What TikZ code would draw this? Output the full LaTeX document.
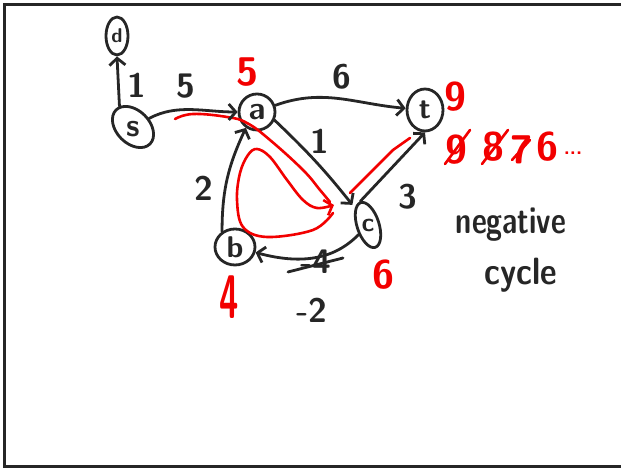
\documentclass[tikz,border=0pt]{standalone}
\usepackage{fontspec}
\usetikzlibrary{arrows.meta,shapes.geometric}
\tikzset{
  ink/.style={line width=2.8pt, draw=black!85, line cap=round, line join=round},
  redink/.style={line width=2.6pt, draw=red!95!black, line cap=round, line join=round},
  barb/.style={-{Straight Barb[length=7pt,width=16pt]}},
  vtx/.style={ink, inner sep=0pt, ellipse},
  fs/.style={font=\sffamily\bfseries\fontsize{#1}{#1}\selectfont},
  blbl/.style={fs=34, text=black!85, inner sep=0pt},
  rlbl/.style={fs=40, text=red!95!black, inner sep=0pt},
}
\begin{document}
\begin{tikzpicture}[x=1pt,y=1pt]
\useasboundingbox (0,0) rectangle (621,470);
\draw[line width=3pt, black!85] (621,465) -- (4,465) -- (4,3) -- (621,3);

% vertices
\node[vtx, minimum width=22, minimum height=38] (d) at (117,434) {};
\node[fs=20, text=black!85] (dl) at (d) {d};
\node[vtx, minimum width=48, minimum height=33, rotate=-45] (s) at (133,343) {};
\node[fs=32, text=black!85] (sl) at (133,341) {s};
\node[vtx, circle, minimum size=36, fs=32, text=black!85] (a) at (257,358) {a};
\node[vtx, minimum width=36, minimum height=42, fs=30, text=black!85] (t) at (425,360) {t};
\node[vtx, minimum width=47, minimum height=22, rotate=108] (c) at (368,245) {};
\node[fs=26, text=black!85] (cl) at (368,245) {c};
\node[vtx, minimum width=40, minimum height=36, fs=30, text=black!85] (b) at (235,223) {b};

% red paths
\draw[redink] plot[smooth, tension=0.7] coordinates {(175,351) (193,356) (227,353) (247,347) (270,330) (303,300) (320,280) (330,268)};
\draw[redink, barb] plot[smooth, tension=0.6] coordinates {(333,257) (313,240) (267,233) (243,243) (237,270) (240,297) (248,315) (257,321) (270,313) (287,290) (303,270) (317,262) (334,265)};
\draw[redink] (350,277) -- (393,320) -- (410,332);

% edges
\draw[ink, barb] (s.168) -- (d.south);
\draw[ink, barb] (s) to[out=45, in=180] (a);
\draw[ink, barb] (a) to[out=20, in=175] (t);
\draw[ink, barb, shorten >=4pt] (a.-25) to[bend left=4] (c);
\draw[ink, barb] (c.east) -- (t.south);
\draw[ink, barb] (c) to[out=200, in=-15] (b);
\draw[ink, barb] (b.130) to[out=90, in=245] (a.235);

% black labels
\node[blbl] (l1) at (137,385) {1};
\node[blbl] (l5) at (186,384) {5};
\node[blbl] (l6) at (342,393) {6};
\node[blbl] (l1b) at (320,329) {1};
\node[blbl] (l3) at (408,273) {3};
\node[blbl] (l2) at (204,282) {2};
\node[blbl] (lm4) at (316,208) {-4};
\draw[ink] (288,198) -- (343,212);
\node[blbl] (lm2) at (312,160) {-2};

% red labels
\node[rlbl] (r5) at (247,398) {5};
\node[rlbl] (r9) at (455,373) {9};
\node[rlbl] (r9b) at (456,320) {9};
\node[rlbl] (r8) at (493,323) {8};
\node[rlbl] (r7) at (521,320) {7};
\node[rlbl] (r6) at (547,323) {6};
\node[rlbl, fs=20] (rdots) at (573,317) {...};
\draw[redink] (445,306) -- (470,340);
\draw[redink] (482,306) -- (508,340);
\draw[redink] (512,310) -- (530,330);
\node[rlbl, fs=44, yscale=1.4, xscale=0.8] (r4) at (229,173) {4};
\node[rlbl] (r6b) at (383,195) {6};

% note
\node[fs=38, text=black!85, xscale=0.76] (neg) at (511,245) {negative};
\node[fs=38, text=black!85, xscale=0.85] (cyc) at (521,195) {cycle};
\end{tikzpicture}
\end{document}
